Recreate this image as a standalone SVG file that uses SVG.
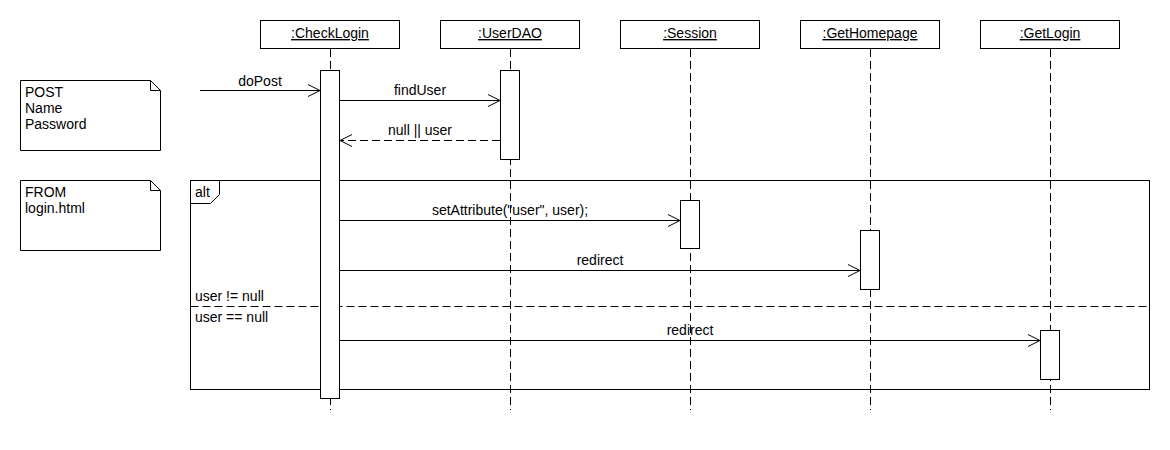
<svg xmlns="http://www.w3.org/2000/svg" width="1170" height="450" viewBox="0 0 1170 450">
  <style>
    text { font-family: "Liberation Sans", Arial, sans-serif; font-size: 14px; fill: #000; }
    .mid { text-anchor: middle; }
    .head { text-decoration: underline; }
    .box { fill: #fff; stroke: #000; stroke-width: 1; }
    .life { stroke: #000; stroke-width: 1; stroke-dasharray: 8 4; fill: none; }
    .act { fill: #fff; stroke: #000; stroke-width: 1; }
    .msg { stroke: #000; stroke-width: 1; fill: none; marker-end: url(#open); }
    .ret { stroke-dasharray: 8 4; }
    .frame { fill: none; stroke: #000; stroke-width: 1; }
    .sep { stroke: #000; stroke-width: 1; stroke-dasharray: 8 4; }
  </style>
  <defs>
    <marker id="open" markerUnits="userSpaceOnUse" markerWidth="14" markerHeight="14" refX="12" refY="6" orient="auto" overflow="visible">
      <path d="M0,0 L12,6 L0,12" fill="none" stroke="#000" stroke-width="1"/>
    </marker>
  </defs>
  <rect width="1170" height="450" fill="#fff"/>

  <!-- notes -->
  <g id="note-post">
    <path class="box" d="M20.5,80.5 H150.5 L160.5,90.5 V150.5 H20.5 Z"/>
    <path class="frame" d="M150.5,80.5 V90.5 H160.5"/>
    <text x="25" y="97">POST</text>
    <text x="25" y="113">Name</text>
    <text x="25" y="129">Password</text>
  </g>
  <g id="note-from">
    <path class="box" d="M20.5,180.5 H150.5 L160.5,190.5 V250.5 H20.5 Z"/>
    <path class="frame" d="M150.5,180.5 V190.5 H160.5"/>
    <text x="25" y="197">FROM</text>
    <text x="25" y="213">login.html</text>
  </g>

  <!-- combined fragment -->
  <g id="alt-fragment">
    <rect class="frame" x="190.5" y="180.5" width="959" height="209"/>
    <path class="frame" d="M190.5,203.5 H210.5 L219.5,194.5 V180.5"/>
    <text x="195" y="197">alt</text>
    <line class="sep" x1="190.5" y1="306.5" x2="1150" y2="306.5"/>
    <text x="195" y="301">user != null</text>
    <text x="195" y="322">user == null</text>
  </g>

  <!-- lifelines -->
  <g id="checklogin">
    <rect class="box" x="260.5" y="20.5" width="139" height="28"/>
    <text class="mid head" x="330" y="38">:CheckLogin</text>
    <line class="life" x1="330.5" y1="49" x2="330.5" y2="410"/>
    <rect class="act" x="320.5" y="70.5" width="19" height="328"/>
  </g>
  <g id="userdao">
    <rect class="box" x="440.5" y="20.5" width="139" height="28"/>
    <text class="mid head" x="510" y="38">:UserDAO</text>
    <line class="life" x1="510.5" y1="49" x2="510.5" y2="410"/>
    <rect class="act" x="500.5" y="70.5" width="19" height="89"/>
  </g>
  <g id="session">
    <rect class="box" x="620.5" y="20.5" width="139" height="28"/>
    <text class="mid head" x="690" y="38">:Session</text>
    <line class="life" x1="690.5" y1="49" x2="690.5" y2="410"/>
    <rect class="act" x="680.5" y="200.5" width="19" height="48"/>
  </g>
  <g id="gethomepage">
    <rect class="box" x="800.5" y="20.5" width="139" height="28"/>
    <text class="mid head" x="870" y="38">:GetHomepage</text>
    <line class="life" x1="870.5" y1="49" x2="870.5" y2="410"/>
    <rect class="act" x="860.5" y="230.5" width="19" height="59"/>
  </g>
  <g id="getlogin">
    <rect class="box" x="980.5" y="20.5" width="139" height="28"/>
    <text class="mid head" x="1050" y="38">:GetLogin</text>
    <line class="life" x1="1050.5" y1="49" x2="1050.5" y2="410"/>
    <rect class="act" x="1040.5" y="330.5" width="19" height="49"/>
  </g>

  <!-- messages -->
  <g id="messages">
    <line class="msg" x1="200" y1="90.5" x2="320" y2="90.5"/>
    <text class="mid" x="260" y="86">doPost</text>
    <line class="msg" x1="340" y1="100.5" x2="500" y2="100.5"/>
    <text class="mid" x="420" y="95">findUser</text>
    <line class="msg ret" x1="500" y1="140.5" x2="340" y2="140.5"/>
    <text class="mid" x="420" y="135">null || user</text>
    <line class="msg" x1="340" y1="220.5" x2="680" y2="220.5"/>
    <text class="mid" x="510" y="215">setAttribute("user", user);</text>
    <line class="msg" x1="340" y1="270.5" x2="860" y2="270.5"/>
    <text class="mid" x="600" y="265">redirect</text>
    <line class="msg" x1="340" y1="340.5" x2="1040" y2="340.5"/>
    <text class="mid" x="690" y="335">redirect</text>
  </g>
</svg>
